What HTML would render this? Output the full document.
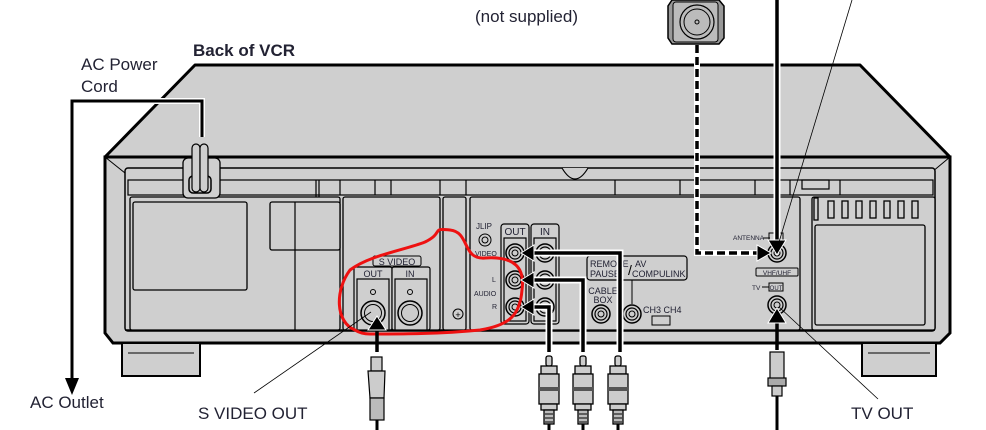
<!DOCTYPE html>
<html><head><meta charset="utf-8"><style>
html,body{margin:0;padding:0;background:#fff;}
svg{display:block;}
text{font-family:"Liberation Sans",sans-serif;}
</style></head><body>
<svg width="986" height="430" viewBox="0 0 986 430" xmlns="http://www.w3.org/2000/svg">
<defs>
<g id="rca">
  <rect x="-3" y="0" width="6" height="10" rx="2" fill="#ccc" stroke="#000" stroke-width="1.3"/>
  <rect x="-8" y="10" width="16" height="8" fill="#ccc" stroke="#000" stroke-width="1.3"/>
  <rect x="-10" y="18" width="20" height="30" fill="#ccc" stroke="#000" stroke-width="1.3"/>
  <rect x="-10" y="31" width="20" height="4" fill="#555"/>
  <rect x="-8" y="48" width="16" height="6" fill="#ccc" stroke="#000" stroke-width="1.3"/>
  <rect x="-5" y="54" width="10" height="14" fill="#bbb" stroke="#000" stroke-width="1.3"/>
  <line x1="-4" y1="58" x2="4" y2="58" stroke="#000"/><line x1="-4" y1="62" x2="4" y2="62" stroke="#000"/><line x1="-4" y1="66" x2="4" y2="66" stroke="#000"/>
  <line x1="0" y1="68" x2="0" y2="80" stroke="#000" stroke-width="3"/>
</g>
<g id="jack">
  <circle r="9" fill="#ccc" stroke="#000" stroke-width="1.5"/>
  <circle r="6" fill="none" stroke="#000" stroke-width="1.2"/>
  <circle r="3" fill="none" stroke="#000" stroke-width="1"/>
</g>
</defs>

<!-- top face -->
<polygon points="105,157 195,65 860,65 950,157" fill="#cfcfcf" stroke="#000" stroke-width="3" stroke-linejoin="round"/>
<!-- front -->
<path d="M105,157 L950,157 L950,333 L940,343 L113,343 L105,333 Z" fill="#cfcfcf" stroke="#000" stroke-width="3"/>
<line x1="105" y1="157" x2="125" y2="173" stroke="#000"/>
<line x1="950" y1="157" x2="932" y2="172" stroke="#000"/>
<!-- feet -->
<rect x="122" y="343" width="78" height="33" fill="#cfcfcf" stroke="#000" stroke-width="2"/>
<rect x="862" y="343" width="74" height="33" fill="#cfcfcf" stroke="#000" stroke-width="2"/>
<line x1="128" y1="353" x2="194" y2="353" stroke="#000"/>
<line x1="868" y1="353" x2="930" y2="353" stroke="#000"/>
<!-- inner panel -->
<rect x="125" y="168" width="810" height="163" rx="3" fill="#cfcfcf" stroke="#000" stroke-width="1.5"/>
<line x1="125" y1="330" x2="935" y2="330" stroke="#000" stroke-width="1.5"/>
<!-- strip -->
<rect x="128" y="180" width="805" height="15" fill="#cfcfcf" stroke="#000" stroke-width="1.2"/>
<g stroke="#000" stroke-width="1.2" fill="none">
<line x1="316" y1="180" x2="316" y2="330"/><line x1="319" y1="180" x2="319" y2="330"/>
<line x1="340" y1="180" x2="340" y2="195"/><line x1="375" y1="180" x2="375" y2="195"/><line x1="391" y1="180" x2="391" y2="195"/>
<line x1="440" y1="180" x2="440" y2="195"/><line x1="466" y1="180" x2="466" y2="195"/>
<line x1="615" y1="180" x2="615" y2="195"/><line x1="680" y1="180" x2="680" y2="195"/><line x1="755" y1="180" x2="755" y2="195"/><line x1="775" y1="180" x2="775" y2="195"/>
<line x1="790" y1="180" x2="790" y2="195"/><line x1="840" y1="180" x2="840" y2="195"/>
<rect x="802" y="180" width="27" height="9"/>
</g>
<path d="M562,168 Q575,190 588,168" fill="#cfcfcf" stroke="#000" stroke-width="1.2"/>
<!-- compartments -->
<g fill="#cfcfcf" stroke="#000" stroke-width="1.3">
<rect x="130" y="197" width="210" height="133" rx="2"/>
<rect x="133" y="202" width="114" height="88" rx="2"/>
<rect x="270" y="202" width="70" height="48" rx="2"/>
<rect x="343" y="197" width="97" height="133" rx="2"/>
<rect x="443" y="197" width="23" height="133" rx="2"/>
<rect x="470" y="197" width="330" height="133" rx="2"/>
<rect x="812" y="197" width="123" height="133" rx="2"/>
<rect x="815" y="225" width="110" height="100" rx="2"/>
</g>
<line x1="295" y1="202" x2="295" y2="330" stroke="#000" stroke-width="1.2"/>
<!-- right vents -->
<g fill="none" stroke="#000" stroke-width="1.3">
<rect x="814" y="198" width="4" height="22"/>
<rect x="828" y="201" width="6" height="17"/><rect x="842" y="201" width="6" height="17"/><rect x="856" y="201" width="6" height="17"/><rect x="870" y="201" width="6" height="17"/><rect x="884" y="201" width="6" height="17"/><rect x="898" y="201" width="6" height="17"/><rect x="912" y="201" width="6" height="17"/>
</g>
<!-- AC cord clamp -->
<rect x="183" y="158" width="37" height="40" rx="5" fill="#cfcfcf" stroke="#000" stroke-width="1.3"/>
<rect x="189" y="176" width="22" height="17" rx="4" fill="#cfcfcf" stroke="#000" stroke-width="1.5"/>
<rect x="192" y="144" width="8" height="48" rx="4" fill="#cfcfcf" stroke="#000" stroke-width="1.2"/>
<rect x="200" y="144" width="8" height="48" rx="4" fill="#cfcfcf" stroke="#000" stroke-width="1.2"/>
<polyline points="202,137 202,101 72,101 72,385" fill="none" stroke="#fff" stroke-width="6"/>
<polyline points="202,137 202,101 72,101 72,385" fill="none" stroke="#000" stroke-width="3"/>
<polygon points="65,378 79,378 72,395" fill="#000"/>

<!-- S VIDEO -->
<rect x="373" y="256" width="48" height="10" rx="2" fill="none" stroke="#000" stroke-width="1"/>
<text x="397" y="265" font-size="9" text-anchor="middle" fill="#223">S VIDEO</text>
<g fill="#cfcfcf" stroke="#000" stroke-width="1.2">
<rect x="354" y="267" width="38" height="63" rx="2"/><rect x="392" y="267" width="38" height="63" rx="2"/>
<rect x="357" y="279" width="32" height="51"/><rect x="395" y="279" width="32" height="51"/>
</g>
<text x="373" y="277" font-size="9" text-anchor="middle" fill="#223">OUT</text>
<text x="410" y="277" font-size="9" text-anchor="middle" fill="#223">IN</text>
<circle cx="373" cy="292" r="2.5" fill="none" stroke="#000"/><circle cx="410" cy="292" r="2.5" fill="none" stroke="#000"/>
<circle cx="373" cy="313" r="12" fill="#ccc" stroke="#000" stroke-width="1.5"/><circle cx="410" cy="313" r="12" fill="#ccc" stroke="#000" stroke-width="1.5"/>
<circle cx="373" cy="313" r="8.5" fill="none" stroke="#000"/><circle cx="410" cy="313" r="8.5" fill="none" stroke="#000"/>
<circle cx="458" cy="314" r="5" fill="none" stroke="#000"/>
<text x="458" y="318" font-size="9" text-anchor="middle">+</text>

<!-- AV jacks -->
<g fill="#cfcfcf" stroke="#000" stroke-width="1.2">
<rect x="501" y="224" width="28" height="100" rx="3"/><rect x="531" y="224" width="28" height="100" rx="3"/>
<rect x="504" y="238" width="22" height="83"/><rect x="534" y="238" width="22" height="83"/>
</g>
<text x="515" y="235" font-size="10" text-anchor="middle" fill="#223">OUT</text>
<text x="545" y="235" font-size="10" text-anchor="middle" fill="#223">IN</text>
<text x="476" y="229" font-size="8" fill="#223">JLIP</text>
<circle cx="485" cy="240" r="6" fill="none" stroke="#000"/><circle cx="485" cy="240" r="3" fill="none" stroke="#000"/>
<text x="475" y="256" font-size="7" fill="#223">VIDEO</text>
<text x="492" y="282" font-size="7" fill="#223">L</text>
<text x="474" y="296" font-size="7" fill="#223">AUDIO</text>
<text x="492" y="309" font-size="7" fill="#223">R</text>
<use href="#jack" x="515" y="253"/><use href="#jack" x="515" y="280"/><use href="#jack" x="515" y="307"/>
<use href="#jack" x="545" y="253"/><use href="#jack" x="545" y="280"/><use href="#jack" x="545" y="307"/>

<rect x="587" y="256" width="100" height="24" rx="3" fill="#cfcfcf" stroke="#000" stroke-width="1.2"/>
<text x="590" y="267" font-size="9" fill="#223">REMOTE</text><text x="590" y="277" font-size="9" fill="#223">PAUSE</text>
<text x="628" y="275" font-size="14" fill="#000">/</text>
<text x="635" y="267" font-size="9" fill="#223">AV</text><text x="632" y="277" font-size="9" fill="#223">COMPULINK</text>
<line x1="632" y1="280" x2="632" y2="304" stroke="#000"/>
<text x="603" y="294" font-size="9" text-anchor="middle" fill="#223">CABLE</text>
<text x="603" y="303" font-size="9" text-anchor="middle" fill="#223">BOX</text>
<use href="#jack" x="601" y="314"/><use href="#jack" x="632" y="314"/>
<text x="643" y="313" font-size="9" fill="#223">CH3 CH4</text>
<rect x="652" y="316" width="18" height="9" fill="none" stroke="#000"/>

<!-- antenna area -->
<text x="733" y="240" font-size="6.5" fill="#223">ANTENNA</text>
<line x1="763" y1="238" x2="770" y2="238" stroke="#000"/>
<rect x="769" y="233" width="14" height="8" fill="none" stroke="#000"/>
<use href="#jack" x="777" y="253"/>
<rect x="756" y="268" width="42" height="8" rx="1" fill="none" stroke="#000"/>
<text x="777" y="275" font-size="6.5" text-anchor="middle" fill="#223">VHF/UHF</text>
<text x="752" y="290" font-size="6.5" fill="#223">TV</text>
<line x1="762" y1="287" x2="769" y2="287" stroke="#000"/>
<rect x="769" y="283" width="14" height="8" fill="none" stroke="#000"/>
<text x="776" y="290" font-size="6" text-anchor="middle" fill="#223">OUT</text>
<use href="#jack" x="777" y="305"/>

<!-- red loop -->
<path d="M355,330 C335,322 335,290 350,270 C370,255 405,250 425,242 C445,232 430,228 450,230 C470,232 462,260 485,258 C515,256 525,268 522,290 C520,315 510,325 480,330 C440,334 400,334 370,334 C362,334 358,332 355,330 Z" fill="none" stroke="#e11" stroke-width="3"/>

<!-- AV cables -->
<g fill="none" stroke-linejoin="miter">
<polyline points="528,253 620,253 620,352" stroke="#fff" stroke-width="7"/>
<polyline points="528,280 583,280 583,352" stroke="#fff" stroke-width="7"/>
<polyline points="528,307 549,307 549,352" stroke="#fff" stroke-width="7"/>
<polyline points="528,253 620,253 620,352" stroke="#000" stroke-width="3.5"/>
<polyline points="528,280 583,280 583,352" stroke="#000" stroke-width="3.5"/>
<polyline points="528,307 549,307 549,352" stroke="#000" stroke-width="3.5"/>
</g>
<polygon points="521,253 534,245 534,261" fill="#000" stroke="#fff" stroke-width="1"/>
<polygon points="521,280 534,272 534,288" fill="#000" stroke="#fff" stroke-width="1"/>
<polygon points="521,307 534,299 534,315" fill="#000" stroke="#fff" stroke-width="1"/>
<use href="#rca" x="549" y="356"/><use href="#rca" x="583" y="356"/><use href="#rca" x="618" y="356"/>

<!-- S-video cable -->
<line x1="377" y1="318" x2="377" y2="352" stroke="#000" stroke-width="3.5"/>
<polygon points="377,316 368,330 386,330" fill="#000" stroke="#fff" stroke-width="1"/>
<rect x="371" y="357" width="11" height="14" fill="#ccc" stroke="#000" stroke-width="1.2"/>
<path d="M368,371 L385,371 L384,398 L370,398 Z" fill="#ccc" stroke="#000" stroke-width="1.2"/>
<rect x="370" y="398" width="14" height="22" fill="#bbb" stroke="#000" stroke-width="1.2"/>
<line x1="377" y1="420" x2="377" y2="430" stroke="#000" stroke-width="3"/>

<!-- TV OUT cable -->
<line x1="777" y1="312" x2="777" y2="350" stroke="#000" stroke-width="3.5"/>
<polygon points="777,308 768,323 786,323" fill="#000" stroke="#fff" stroke-width="1"/>
<rect x="770" y="352" width="14" height="32" fill="#ccc" stroke="#000" stroke-width="1.2"/>
<rect x="768" y="378" width="18" height="8" fill="#aaa" stroke="#000" stroke-width="1.2"/>
<rect x="772" y="386" width="10" height="10" fill="#ccc" stroke="#000" stroke-width="1.2"/>
<line x1="777" y1="396" x2="777" y2="430" stroke="#000" stroke-width="3"/>

<!-- antenna lead -->
<line x1="777" y1="0" x2="777" y2="245" stroke="#fff" stroke-width="7"/>
<line x1="777" y1="0" x2="777" y2="243" stroke="#000" stroke-width="3.5"/>
<polygon points="777,255 768,240 786,240" fill="#000" stroke="#fff" stroke-width="1"/>
<polyline points="697,45 697,253 760,253" fill="none" stroke="#fff" stroke-width="6"/>
<polyline points="697,45 697,253 760,253" fill="none" stroke="#000" stroke-width="3.5" stroke-dasharray="8,4"/>
<polygon points="771,253 757,245 757,261" fill="#000" stroke="#fff" stroke-width="1"/>
<!-- antenna connector -->
<path d="M672,0 L719,0 L724,6 L724,38 L719,44 L672,44 L668,38 L668,6 Z" fill="#999" stroke="#000" stroke-width="1.5"/>
<rect x="673" y="2" width="45" height="40" rx="3" fill="#bbb" stroke="#000" stroke-width="1"/>
<circle cx="697" cy="22" r="17" fill="#bbb" stroke="#000" stroke-width="1.2"/>
<circle cx="697" cy="22" r="13" fill="none" stroke="#000"/>
<circle cx="697" cy="22" r="2" fill="none" stroke="#000"/>

<!-- leader lines -->
<line x1="852" y1="0" x2="776" y2="252" stroke="#000" stroke-width="0.8"/>
<line x1="254" y1="393" x2="371" y2="312" stroke="#000" stroke-width="0.8"/>
<line x1="878" y1="399" x2="779" y2="307" stroke="#000" stroke-width="0.8"/>

<!-- labels -->
<text x="475" y="22" font-size="17" fill="#223">(not supplied)</text>
<text x="193" y="56" font-size="17" font-weight="bold" fill="#223">Back of VCR</text>
<text x="81" y="70" font-size="17" fill="#223">AC Power</text>
<text x="81" y="92" font-size="17" fill="#223">Cord</text>
<text x="30" y="408" font-size="17" fill="#223">AC Outlet</text>
<text x="198" y="419" font-size="17" fill="#223">S VIDEO OUT</text>
<text x="851" y="419" font-size="17" fill="#223">TV OUT</text>
</svg>
</body></html>
